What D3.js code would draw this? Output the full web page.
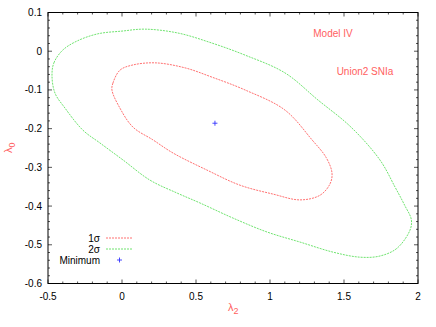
<!DOCTYPE html>
<html>
<head>
<meta charset="utf-8">
<script src="https://cdn.jsdelivr.net/npm/d3@7"></script>
<style>
body { margin: 0; background: #fff; }
svg { font-family: "Liberation Sans", Arial, sans-serif; }
</style>
</head>
<body>
<div id="chart"></div>
<script>
// data
var xTicks = [-0.5, 0, 0.5, 1, 1.5, 2];
var yTicks = [0.1, 0, -0.1, -0.2, -0.3, -0.4, -0.5, -0.6];

// 2 sigma contour (lambda2, lambda0)
var sigma2X = [-0.473, -0.46, -0.40, -0.30, -0.162, 0.000, 0.155, 0.378, 0.608, 0.831, 1.101, 1.324, 1.547, 1.743, 1.845, 1.910, 1.955, 1.946, 1.858, 1.743, 1.608, 1.426, 1.203, 0.980, 0.750, 0.527, 0.370, 0.189, 0.007, -0.149, -0.264, -0.385, -0.453];
var sigma2Y = [-0.062, -0.030, 0.003, 0.027, 0.045, 0.052, 0.057, 0.047, 0.021, -0.010, -0.056, -0.126, -0.196, -0.281, -0.351, -0.398, -0.435, -0.462, -0.509, -0.529, -0.532, -0.519, -0.493, -0.467, -0.431, -0.392, -0.366, -0.333, -0.281, -0.237, -0.204, -0.147, -0.108];

// 1 sigma contour
var sigma1X = [-0.068, -0.061, -0.014, 0.068, 0.223, 0.426, 0.608, 0.831, 1.101, 1.284, 1.380, 1.419, 1.405, 1.338, 1.203, 1.020, 0.797, 0.574, 0.345, 0.209, 0.074, -0.014];
var sigma1Y = [-0.100, -0.082, -0.049, -0.036, -0.030, -0.043, -0.067, -0.100, -0.152, -0.229, -0.275, -0.315, -0.343, -0.372, -0.384, -0.369, -0.346, -0.307, -0.263, -0.229, -0.196, -0.147];

var minimum = [0.628, -0.186];

//general setup
var width = 436,
    height = 327,
    plotL = 48, plotR = 418, plotT = 12.5, plotB = 283.5;

var red = "#ff6060", green = "#5fe05f";

var xScale = d3.scaleLinear().domain([-0.5, 2]).range([plotL, plotR]);
var yScale = d3.scaleLinear().domain([-0.6, 0.1]).range([plotB, plotT]);

var svg = d3.select("#chart").append("svg")
    .attr("width", width)
    .attr("height", height);

//axes: ticks on all four sides, pointing inward
var xMinor = d3.range(-0.5, 2.0001, 0.1).filter(function (d) {
    return Math.abs(d * 2 - Math.round(d * 2)) > 1e-6;
});
var yMinor = d3.range(-0.6, 0.1001, 0.02).filter(function (d) {
    return Math.abs(d * 10 - Math.round(d * 10)) > 1e-6;
});

function tickLines(g, vals, len, horizontal, at, dir) {
    g.selectAll(null).data(vals).enter().append("line")
        .attr("x1", function (d) { return horizontal ? xScale(d) : at; })
        .attr("x2", function (d) { return horizontal ? xScale(d) : at + dir * len; })
        .attr("y1", function (d) { return horizontal ? at : yScale(d); })
        .attr("y2", function (d) { return horizontal ? at + dir * len : yScale(d); })
        .attr("stroke", "#555")
        .attr("stroke-width", 1);
}

var ticks = svg.append("g");
tickLines(ticks, xTicks, 4, true, plotB, -1);
tickLines(ticks, xTicks, 4, true, plotT, 1);
tickLines(ticks, xMinor, 2, true, plotB, -1);
tickLines(ticks, xMinor, 2, true, plotT, 1);
tickLines(ticks, yTicks, 4, false, plotL, 1);
tickLines(ticks, yTicks, 4, false, plotR, -1);
tickLines(ticks, yMinor, 2, false, plotL, 1);
tickLines(ticks, yMinor, 2, false, plotR, -1);

svg.append("rect")
    .attr("x", plotL)
    .attr("y", plotT)
    .attr("width", plotR - plotL)
    .attr("height", plotB - plotT)
    .attr("fill", "none")
    .attr("stroke", "#000")
    .attr("stroke-width", 1);

//tick labels
svg.append("g").selectAll("text").data(xTicks).enter().append("text")
    .attr("x", function (d) { return xScale(d); })
    .attr("y", plotB + 16)
    .attr("text-anchor", "middle")
    .attr("font-size", 10)
    .text(function (d) { return d; });

svg.append("g").selectAll("text").data(yTicks).enter().append("text")
    .attr("x", plotL - 6)
    .attr("y", function (d) { return yScale(d) + 3.5; })
    .attr("text-anchor", "end")
    .attr("font-size", 10)
    .text(function (d) { return d; });

//axis labels
var xl = svg.append("text")
    .attr("x", 228)
    .attr("y", 311)
    .attr("fill", red)
    .attr("font-size", 11)
    .text("\u03bb");
xl.append("tspan").attr("dy", 3).attr("font-size", 9).text("2");

var yl = svg.append("text")
    .attr("transform", "translate(12,153) rotate(-90)")
    .attr("fill", red)
    .attr("font-size", 11)
    .text("\u03bb");
yl.append("tspan").attr("dy", 3).attr("font-size", 9).text("0");

//annotations
svg.append("text")
    .attr("x", 333).attr("y", 37)
    .attr("text-anchor", "middle")
    .attr("fill", red)
    .attr("font-size", 10)
    .text("Model IV");

svg.append("text")
    .attr("x", 365).attr("y", 75)
    .attr("text-anchor", "middle")
    .attr("fill", red)
    .attr("font-size", 10)
    .text("Union2 SNIa");

//contours
var line = d3.line()
    .x(function (d) { return xScale(d[0]); })
    .y(function (d) { return yScale(d[1]); })
    .curve(d3.curveCatmullRomClosed.alpha(0.5));

var pts2 = sigma2X.map(function (d, i) { return [d, sigma2Y[i]]; });
var pts1 = sigma1X.map(function (d, i) { return [d, sigma1Y[i]]; });

svg.append("path")
    .attr("d", line(pts2))
    .attr("fill", "none")
    .attr("stroke", green)
    .attr("stroke-width", 0.9)
    .attr("stroke-dasharray", "2,1");

svg.append("path")
    .attr("d", line(pts1))
    .attr("fill", "none")
    .attr("stroke", red)
    .attr("stroke-width", 0.9)
    .attr("stroke-dasharray", "2,1");

//minimum marker
function plus(g, cx, cy) {
    g.append("path")
        .attr("d", "M" + (cx - 2.5) + "," + cy + "H" + (cx + 2.5) + "M" + cx + "," + (cy - 2.5) + "V" + (cy + 2.5))
        .attr("stroke", "#3333ff")
        .attr("stroke-width", 0.9);
}
plus(svg, xScale(minimum[0]), yScale(minimum[1]));

//legend
var legend = svg.append("g").attr("font-size", 10);
legend.append("text").attr("x", 100).attr("y", 241.5).attr("text-anchor", "end").text("1\u03c3");
legend.append("text").attr("x", 100).attr("y", 252.5).attr("text-anchor", "end").text("2\u03c3");
legend.append("text").attr("x", 100).attr("y", 264).attr("text-anchor", "end").text("Minimum");
legend.append("line").attr("x1", 106).attr("x2", 133).attr("y1", 238).attr("y2", 238)
    .attr("stroke", red).attr("stroke-width", 0.9).attr("stroke-dasharray", "2,1");
legend.append("line").attr("x1", 106).attr("x2", 133).attr("y1", 249).attr("y2", 249)
    .attr("stroke", green).attr("stroke-width", 0.9).attr("stroke-dasharray", "2,1");
plus(legend, 119.5, 260);
</script>
</body>
</html>
